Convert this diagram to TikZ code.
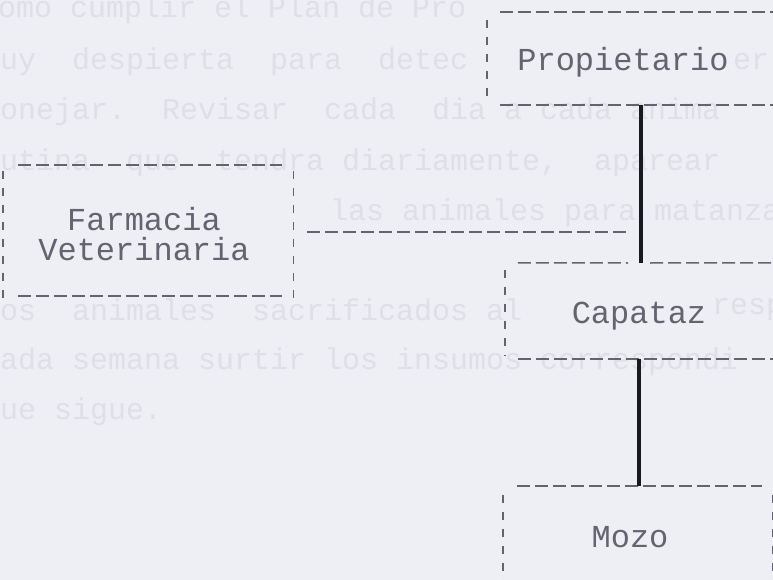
\documentclass[tikz,border=0pt]{standalone}
\usepackage{fontspec}
\setmonofont{Liberation Mono}
\definecolor{paper}{RGB}{238,238,245}
\definecolor{ink}{RGB}{100,100,112}
\definecolor{ghost}{RGB}{223,223,232}
\definecolor{rulecol}{RGB}{25,25,30}
\tikzset{
  ghosttext/.style={font=\ttfamily\fontsize{30}{30}\selectfont, text=ghost, anchor=west, inner sep=0pt},
  boxlabel/.style={font=\ttfamily\fontsize{32}{30}\selectfont, text=ink, inner sep=0pt, align=center},
  framebox/.style={draw=none, rectangle, inner sep=0pt},
  hrule/.style={draw=ink, line width=1.5pt, dash pattern=on 13pt off 5pt},
  vrule/.style={draw=ink, line width=1.4pt, dash pattern=on 8pt off 9pt},
  linkline/.style={draw=rulecol, line width=3.2pt}
}
\begin{document}
\begin{tikzpicture}[x=1pt,y=-1pt]
\useasboundingbox (0,0) rectangle (773,580);
\fill[paper] (0,0) rectangle (773,580);
\clip (0,0) rectangle (773,580);

% faint show-through text from the other side of the sheet
\node[ghosttext] (g1) at (-2,10) {omo cumplir el Plan de Pro};
\node[ghosttext] (g2) at (0,62) {uy\ \ despierta\ \ para\ \ detec};
\node[ghosttext] (g2b) at (733,62) {er};
\node[ghosttext] (g3) at (0,112) {onejar.\ \ Revisar\ \ cada\ \ dia a cada anima};
\node[ghosttext] (g4) at (0,163) {utina\ \ que\ \ tendra diariamente,\ \ aparear};
\node[ghosttext] (g5) at (330,213) {las animales para matanza y p};
\node[ghosttext] (g6) at (0,310) {os\ \ animales\ \ sacrificados al};
\node[ghosttext] (g6b) at (712,310) {resp};
\node[ghosttext] (g7) at (0,362) {ada semana surtir los insumos correspondi};
\node[ghosttext] (g8) at (0,412) {ue sigue.};

% box frames
\node[framebox, minimum width=303pt, minimum height=93pt] (propbox) at (638.5,58.5) {};
\node[framebox, minimum width=290pt, minimum height=134pt] (farmbox) at (148,232) {};
\node[framebox, minimum width=285pt, minimum height=96pt] (capbox) at (647.5,311) {};
\node[framebox, minimum width=269pt, minimum height=114pt] (mozobox) at (637.5,543) {};

% labels
\node[boxlabel] (proptext) at (623,62) {Propietario};
\node[boxlabel] (farmtext) at (144,234) {Farmacia\\Veterinaria};
\node[boxlabel] (captext) at (639,316) {Capataz};
\node[boxlabel] (mozotext) at (630,537) {Mozo};

% Propietario frame
\draw[hrule, shorten <=13pt] (propbox.north west) -- (propbox.north east);
\draw[hrule, shorten <=13pt] (propbox.south west) -- (propbox.south east);
\draw[vrule, shorten <=8pt, shorten >=8pt] (propbox.north west) -- (propbox.south west);

% Farmacia frame
\draw[hrule, shorten <=15pt, shorten >=11pt] (farmbox.north west) -- (farmbox.north east);
\draw[hrule, shorten <=15pt, shorten >=11pt] ([yshift=3pt]farmbox.south west) -- ([yshift=3pt]farmbox.south east);
\draw[vrule, shorten <=6pt] (farmbox.north west) -- (farmbox.south west);
\draw[vrule, shorten <=6pt] (farmbox.north east) -- (farmbox.south east);

% Capataz frame
\coordinate (linkA) at (641,0);
\coordinate (linkB) at (639,0);
\coordinate (capgapL) at (628,263);
\coordinate (capgapR) at (650,263);
\draw[hrule, shorten <=13pt] (capbox.north west) -- (capgapL);
\draw[hrule] (capgapR) -- (capbox.north east);
\draw[hrule, shorten <=13pt] (capbox.south west) -- (capbox.south east);
\draw[vrule, shorten <=7pt, shorten >=4pt] (capbox.north west) -- (capbox.south west);

% Mozo frame
\draw[hrule, shorten <=14pt, shorten >=10pt] (mozobox.north west) -- (mozobox.north east);
\draw[vrule, shorten <=9pt] (mozobox.north west) -- (mozobox.south west);
\draw[vrule, shorten <=9pt] (mozobox.north east) -- (mozobox.south east);

% connectors
\draw[linkline] (linkA |- propbox.south) -- (linkA |- capbox.north);
\draw[linkline] (linkB |- capbox.south) -- (linkB |- mozobox.north);
\coordinate (farmjoin) at (627,232);
\draw[hrule, shorten <=14pt] (farmbox.east |- farmjoin) -- (farmjoin);
\end{tikzpicture}
\end{document}
